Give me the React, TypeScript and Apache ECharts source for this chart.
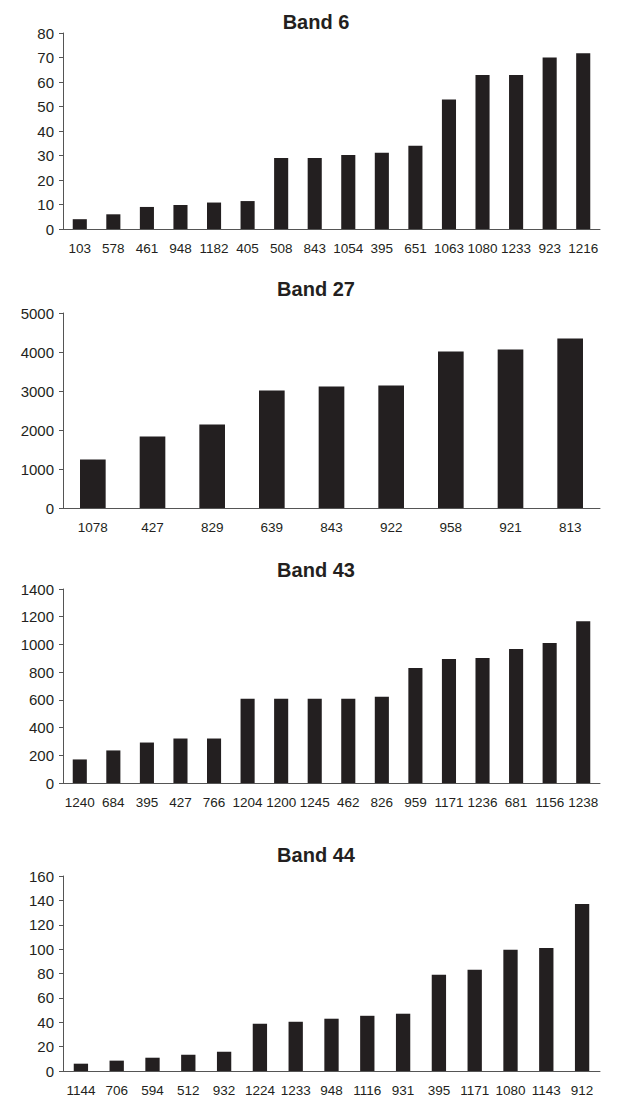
import React, { useEffect, useRef } from "react";
import * as echarts from "echarts";

const titles = ["Band 6", "Band 27", "Band 43", "Band 44"];

const cats6 = ["103", "578", "461", "948", "1182", "405", "508", "843", "1054", "395", "651", "1063", "1080", "1233", "923", "1216"];
const vals6 = [4, 6, 9, 9.8, 10.8, 11.4, 29, 29, 30.2, 31.1, 34, 52.9, 62.9, 62.9, 70, 71.7];

const cats27 = ["1078", "427", "829", "639", "843", "922", "958", "921", "813"];
const vals27 = [1245, 1834, 2142, 3012, 3114, 3140, 4010, 4061, 4343];

const cats43 = ["1240", "684", "395", "427", "766", "1204", "1200", "1245", "462", "826", "959", "1171", "1236", "681", "1156", "1238"];
const vals43 = [170, 235, 292, 321, 321, 608, 608, 608, 608, 622, 830, 895, 902, 967, 1010, 1168];

const cats44 = ["1144", "706", "594", "512", "932", "1224", "1233", "948", "1116", "931", "395", "1171", "1080", "1143", "912"];
const vals44 = [6, 8.5, 10.9, 13.4, 15.8, 38.8, 40.4, 42.9, 45.3, 47, 78.9, 83, 99.4, 101, 137.1];

const yMax = [80, 5000, 1400, 160];
const yInterval = [10, 1000, 200, 20];

const allCats = [cats6, cats27, cats43, cats44];
const allVals = [vals6, vals27, vals43, vals44];

const W = 624;
const H = 1097;
const FONT = "Liberation Sans, Arial, sans-serif";
const INK = "#231f20";
const AXIS = "#555555";

const gridTops = [33, 313, 589, 876];
const gridBottoms = [229, 508, 783, 1071];
const titleY = [21.5, 288.5, 569.5, 855];
const barWidths = ["42%", "43%", "42%", "40%"];

export default function App() {
  const ref = useRef<HTMLDivElement>(null);
  useEffect(() => {
    document.body.style.margin = "0";
    if (!ref.current) return;
    const chart = echarts.init(ref.current, null, { renderer: "svg" });
    const grids = gridTops.map((t, i) => ({
      left: 63,
      width: 537,
      top: t,
      height: gridBottoms[i] - t,
    }));
    const xAxes = allCats.map((c, i) => ({
      type: "category",
      gridIndex: i,
      data: c,
      axisLine: { lineStyle: { color: AXIS, width: 1 } },
      axisTick: { length: 5, lineStyle: { color: AXIS } },
      axisLabel: { color: INK, fontSize: 13.5, fontFamily: FONT, margin: 12, interval: 0 },
    }));
    const yAxes = yMax.map((m, i) => ({
      type: "value",
      gridIndex: i,
      min: 0,
      max: m,
      interval: yInterval[i],
      axisLine: { show: true, lineStyle: { color: AXIS, width: 1 } },
      axisTick: { show: true, length: 4, lineStyle: { color: AXIS } },
      splitLine: { show: false },
      axisLabel: {
        color: INK,
        fontSize: 15,
        fontFamily: FONT,
        margin: 9,
        formatter: (v: number) => String(v),
      },
    }));
    const series = allVals.map((v, i) => ({
      type: "bar",
      xAxisIndex: i,
      yAxisIndex: i,
      data: v,
      barWidth: barWidths[i],
      itemStyle: { color: INK },
    }));
    const graphic = titles.map((t, i) => ({
      type: "text",
      x: 316,
      y: titleY[i],
      style: {
        text: t,
        fill: INK,
        font: `bold 20px ${FONT}`,
        textAlign: "center",
        textVerticalAlign: "middle",
      },
    }));
    chart.setOption({
      animation: false,
      backgroundColor: "#ffffff",
      grid: grids,
      xAxis: xAxes,
      yAxis: yAxes,
      series,
      graphic,
    });
    return () => chart.dispose();
  }, []);
  return <div ref={ref} style={{ width: W, height: H }} />;
}
